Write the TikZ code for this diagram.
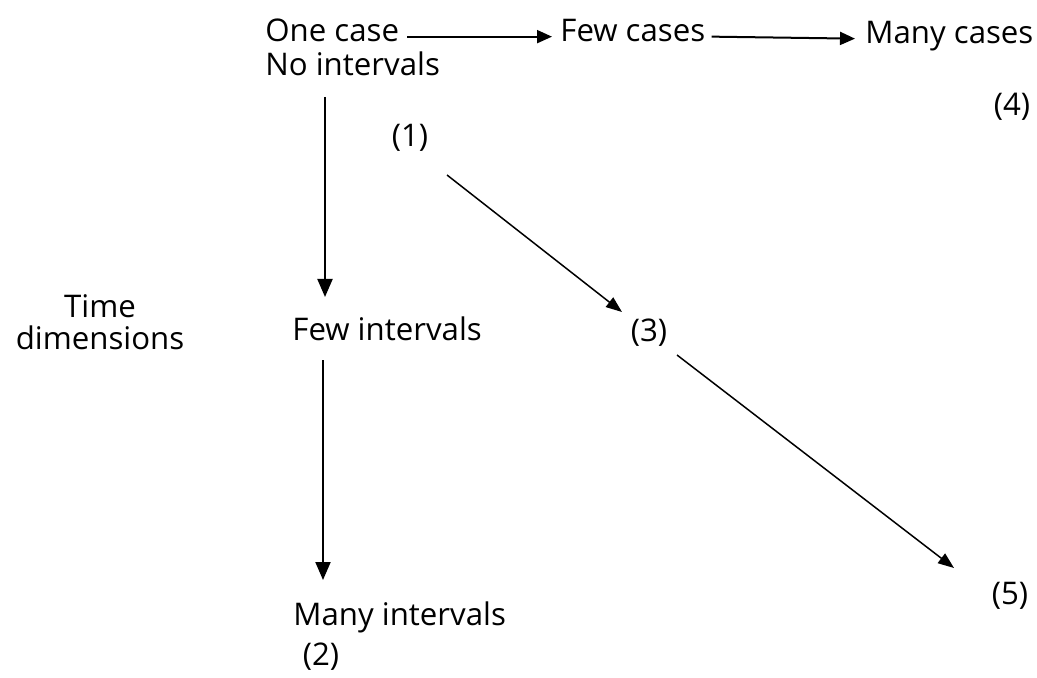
\documentclass[tikz,border=0pt]{standalone}
\usepackage{fontspec}
\setmainfont{Open Sans}
\usetikzlibrary{arrows.meta}
\begin{document}
\begin{tikzpicture}[x=0.5pt,y=-0.5pt,
  lbl/.style={inner sep=0pt, font=\fontsize{15.6}{18}\selectfont},
  harr/.style={line width=1pt, -{Triangle[length=7.5pt,width=6.5pt]}},
  varr/.style={line width=1pt, -{Triangle[length=9pt,width=7.5pt]}},
  darr/.style={line width=0.75pt, -{Triangle[length=8pt,width=6pt]}}]
\useasboundingbox (0,0) rectangle (1037,678);
% top row
\node[lbl,anchor=base west] (onecase) at (265,42) {One case};
\node[lbl,anchor=base west] (nointervals) at (265,76) {No intervals};
\node[lbl,anchor=base west] (fewcases) at (560,42) {Few cases};
\node[lbl,anchor=base west] (manycases) at (865,44) {Many cases};
\node[lbl] (n4) at (1012,107) {(4)};
\node[lbl] (n1) at (410,138) {(1)};
% left
\node[lbl,anchor=base] (time) at (100,317) {Time};
\node[lbl,anchor=base] (dims) at (100,350) {dimensions};
% middle
\node[lbl,anchor=base west] (fewint) at (292,340) {Few intervals};
\node[lbl] (n3) at (649,333) {(3)};
\node[lbl] (n5) at (1010,596) {(5)};
\node[lbl,anchor=base west] (manyint) at (293,625) {Many intervals};
\node[lbl] (n2) at (321,657) {(2)};
% connector ends
\coordinate (v1s) at (325,97);
\coordinate (v1e) at (325,297);
\coordinate (v2s) at (323,360);
\coordinate (v2e) at (323,580);
\coordinate (d1s) at (447,175);
\coordinate (d1e) at (622,312);
\coordinate (d2s) at (677,355);
\coordinate (d2e) at (954,568);
% connectors
\draw[harr] ([xshift=4pt]onecase.mid east) -- ([xshift=-4pt]fewcases.mid west);
\draw[harr] ([xshift=3pt]fewcases.mid east) -- ([xshift=-5pt]manycases.mid west);
\draw[varr] (v1s) -- (v1e);
\draw[varr] (v2s) -- (v2e);
\draw[darr] (d1s) -- (d1e);
\draw[darr] (d2s) -- (d2e);
\end{tikzpicture}
\end{document}
